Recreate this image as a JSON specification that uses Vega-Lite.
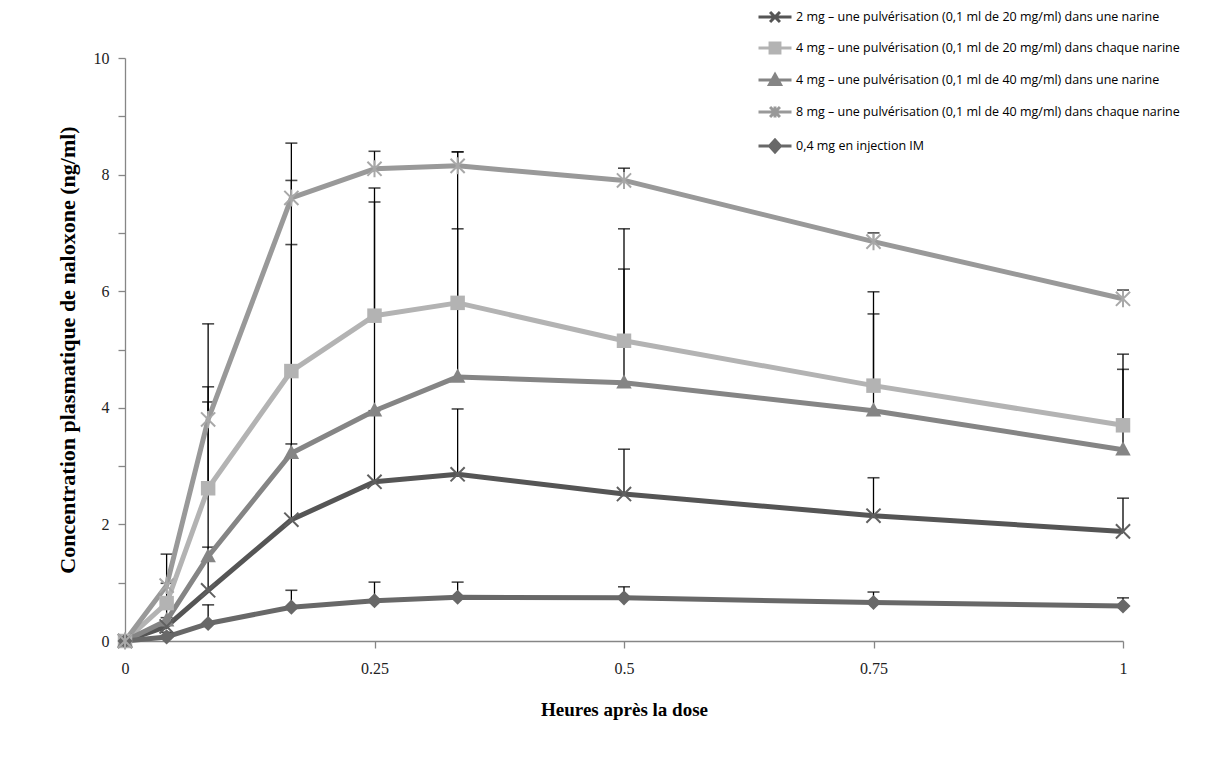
{
  "$schema": "https://vega.github.io/schema/vega-lite/v6.json",
  "width": 998,
  "height": 583,
  "autosize": "none",
  "padding": {"left": 125, "top": 58, "right": 90, "bottom": 126},
  "background": "white",
  "config": {
    "view": {"stroke": null},
    "axis": {"grid": false, "domainColor": "#868686", "tickColor": "#868686", "labelFont": "Liberation Serif", "labelFontSize": 16, "labelColor": "#222222", "titleFont": "Liberation Serif", "titleFontWeight": "bold", "titleColor": "#000000", "titleFontSize": 22, "tickSize": 7, "domainWidth": 1.3, "tickWidth": 1.3}
  },
  "data": {"values": [
    {"s": "2 mg – une pulvérisation (0,1 ml de 20 mg/ml) dans une narine", "x": 0, "y": 0, "up": null},
    {"s": "2 mg – une pulvérisation (0,1 ml de 20 mg/ml) dans une narine", "x": 0.0417, "y": 0.25, "up": 0.4},
    {"s": "2 mg – une pulvérisation (0,1 ml de 20 mg/ml) dans une narine", "x": 0.0833, "y": 0.87, "up": 1.61},
    {"s": "2 mg – une pulvérisation (0,1 ml de 20 mg/ml) dans une narine", "x": 0.1667, "y": 2.08, "up": 3.38},
    {"s": "2 mg – une pulvérisation (0,1 ml de 20 mg/ml) dans une narine", "x": 0.25, "y": 2.73, "up": 3.95},
    {"s": "2 mg – une pulvérisation (0,1 ml de 20 mg/ml) dans une narine", "x": 0.3333, "y": 2.86, "up": 3.98},
    {"s": "2 mg – une pulvérisation (0,1 ml de 20 mg/ml) dans une narine", "x": 0.5, "y": 2.52, "up": 3.29},
    {"s": "2 mg – une pulvérisation (0,1 ml de 20 mg/ml) dans une narine", "x": 0.75, "y": 2.15, "up": 2.8},
    {"s": "2 mg – une pulvérisation (0,1 ml de 20 mg/ml) dans une narine", "x": 1, "y": 1.88, "up": 2.45},
    {"s": "4 mg – une pulvérisation (0,1 ml de 20 mg/ml) dans chaque narine", "x": 0, "y": 0, "up": null},
    {"s": "4 mg – une pulvérisation (0,1 ml de 20 mg/ml) dans chaque narine", "x": 0.0417, "y": 0.65, "up": 0.99},
    {"s": "4 mg – une pulvérisation (0,1 ml de 20 mg/ml) dans chaque narine", "x": 0.0833, "y": 2.62, "up": 4.36},
    {"s": "4 mg – une pulvérisation (0,1 ml de 20 mg/ml) dans chaque narine", "x": 0.1667, "y": 4.63, "up": 7.9},
    {"s": "4 mg – une pulvérisation (0,1 ml de 20 mg/ml) dans chaque narine", "x": 0.25, "y": 5.58, "up": 7.77},
    {"s": "4 mg – une pulvérisation (0,1 ml de 20 mg/ml) dans chaque narine", "x": 0.3333, "y": 5.8, "up": 7.07},
    {"s": "4 mg – une pulvérisation (0,1 ml de 20 mg/ml) dans chaque narine", "x": 0.5, "y": 5.15, "up": 7.07},
    {"s": "4 mg – une pulvérisation (0,1 ml de 20 mg/ml) dans chaque narine", "x": 0.75, "y": 4.38, "up": 5.99},
    {"s": "4 mg – une pulvérisation (0,1 ml de 20 mg/ml) dans chaque narine", "x": 1, "y": 3.7, "up": 4.92},
    {"s": "4 mg – une pulvérisation (0,1 ml de 40 mg/ml) dans une narine", "x": 0, "y": 0, "up": null},
    {"s": "4 mg – une pulvérisation (0,1 ml de 40 mg/ml) dans une narine", "x": 0.0417, "y": 0.35, "up": 0.6},
    {"s": "4 mg – une pulvérisation (0,1 ml de 40 mg/ml) dans une narine", "x": 0.0833, "y": 1.45, "up": 4.1},
    {"s": "4 mg – une pulvérisation (0,1 ml de 40 mg/ml) dans une narine", "x": 0.1667, "y": 3.22, "up": 6.8},
    {"s": "4 mg – une pulvérisation (0,1 ml de 40 mg/ml) dans une narine", "x": 0.25, "y": 3.95, "up": 7.53},
    {"s": "4 mg – une pulvérisation (0,1 ml de 40 mg/ml) dans une narine", "x": 0.3333, "y": 4.53, "up": 8.39},
    {"s": "4 mg – une pulvérisation (0,1 ml de 40 mg/ml) dans une narine", "x": 0.5, "y": 4.43, "up": 6.38},
    {"s": "4 mg – une pulvérisation (0,1 ml de 40 mg/ml) dans une narine", "x": 0.75, "y": 3.95, "up": 5.61},
    {"s": "4 mg – une pulvérisation (0,1 ml de 40 mg/ml) dans une narine", "x": 1, "y": 3.28, "up": 4.66},
    {"s": "8 mg – une pulvérisation (0,1 ml de 40 mg/ml) dans chaque narine", "x": 0, "y": 0, "up": null},
    {"s": "8 mg – une pulvérisation (0,1 ml de 40 mg/ml) dans chaque narine", "x": 0.0417, "y": 0.95, "up": 1.49},
    {"s": "8 mg – une pulvérisation (0,1 ml de 40 mg/ml) dans chaque narine", "x": 0.0833, "y": 3.8, "up": 5.44},
    {"s": "8 mg – une pulvérisation (0,1 ml de 40 mg/ml) dans chaque narine", "x": 0.1667, "y": 7.6, "up": 8.54},
    {"s": "8 mg – une pulvérisation (0,1 ml de 40 mg/ml) dans chaque narine", "x": 0.25, "y": 8.1, "up": 8.4},
    {"s": "8 mg – une pulvérisation (0,1 ml de 40 mg/ml) dans chaque narine", "x": 0.3333, "y": 8.15, "up": 8.39},
    {"s": "8 mg – une pulvérisation (0,1 ml de 40 mg/ml) dans chaque narine", "x": 0.5, "y": 7.9, "up": 8.11},
    {"s": "8 mg – une pulvérisation (0,1 ml de 40 mg/ml) dans chaque narine", "x": 0.75, "y": 6.85, "up": 7.0},
    {"s": "8 mg – une pulvérisation (0,1 ml de 40 mg/ml) dans chaque narine", "x": 1, "y": 5.87, "up": 6.02},
    {"s": "0,4 mg en injection IM", "x": 0, "y": 0, "up": null},
    {"s": "0,4 mg en injection IM", "x": 0.0417, "y": 0.07, "up": 0.15},
    {"s": "0,4 mg en injection IM", "x": 0.0833, "y": 0.3, "up": 0.62},
    {"s": "0,4 mg en injection IM", "x": 0.1667, "y": 0.58, "up": 0.87},
    {"s": "0,4 mg en injection IM", "x": 0.25, "y": 0.69, "up": 1.01},
    {"s": "0,4 mg en injection IM", "x": 0.3333, "y": 0.75, "up": 1.01},
    {"s": "0,4 mg en injection IM", "x": 0.5, "y": 0.74, "up": 0.93},
    {"s": "0,4 mg en injection IM", "x": 0.75, "y": 0.66, "up": 0.84},
    {"s": "0,4 mg en injection IM", "x": 1, "y": 0.6, "up": 0.74}
  ]},
  "layer": [
    {
      "transform": [{"filter": "datum.up != null"}],
      "mark": {"type": "rule", "color": "#000000", "strokeWidth": 1.3},
      "encoding": {
        "x": {"field": "x", "type": "quantitative"},
        "y": {"field": "y", "type": "quantitative"},
        "y2": {"field": "up"}
      }
    },
    {
      "transform": [{"filter": "datum.up != null"}],
      "mark": {"type": "tick", "orient": "horizontal", "color": "#000000", "size": 12, "thickness": 1.6},
      "encoding": {
        "x": {"field": "x", "type": "quantitative"},
        "y": {"field": "up", "type": "quantitative"}
      }
    },
    {
      "mark": {"type": "line", "strokeWidth": 5, "strokeJoin": "round"},
      "encoding": {
        "x": {"field": "x", "type": "quantitative", "scale": {"domain": [0, 1], "nice": false}, "axis": {"values": [0, 0.25, 0.5, 0.75, 1], "format": "~g", "title": "Heures après la dose", "titleFontSize": 19, "labelPadding": 12, "titlePadding": 24, "labelFlush": false}},
        "y": {"field": "y", "type": "quantitative", "scale": {"domain": [0, 10], "nice": false}, "axis": {"values": [0, 1, 2, 3, 4, 5, 6, 7, 8, 9, 10], "format": "~g", "labelExpr": "datum.value % 2 == 0 ? datum.label : ''", "title": "Concentration plasmatique de naloxone (ng/ml)", "titlePadding": 14, "labelPadding": 9}},
        "color": {
          "field": "s", "type": "nominal", "sort": null,
          "scale": {
            "domain": ["2 mg – une pulvérisation (0,1 ml de 20 mg/ml) dans une narine", "4 mg – une pulvérisation (0,1 ml de 20 mg/ml) dans chaque narine", "4 mg – une pulvérisation (0,1 ml de 40 mg/ml) dans une narine", "8 mg – une pulvérisation (0,1 ml de 40 mg/ml) dans chaque narine", "0,4 mg en injection IM"],
            "range": ["#555555", "#b3b3b3", "#858585", "#999999", "#686868"]
          },
          "legend": {
            "orient": "none", "legendX": 643, "legendY": -48, "title": null, "padding": 0,
            "labelFont": "Open Sans", "labelFontSize": 12.5, "labelColor": "#000000", "labelOffset": 14,
            "symbolSize": 121, "symbolStrokeWidth": 3, "rowPadding": 9, "labelLimit": 600,
            "encode": {"symbols": {"update": {
              "shape": {"signal": "['M-3,0H3M-0.9,-0.9L0.9,0.9M-0.9,0.9L0.9,-0.9', 'M-3,0H3M-0.9,-0.9H0.9V0.9H-0.9Z', 'M-3,0H3M0,-1L1,0.8H-1Z', 'M-3,0H3M-0.9,-0.9L0.9,0.9M-0.9,0.9L0.9,-0.9M0,-1V1', 'M-3,0H3M0,-1.1L1,0L0,1.1L-1,0Z'][datum.index]"},
              "fill": {"signal": "scale('color', datum.value)"},
              "stroke": {"signal": "scale('color', datum.value)"},
              "strokeWidth": {"value": 3},
              "opacity": {"value": 1}
            }}}
          }
        }
      }
    },
    {
      "transform": [{"filter": "datum.s == '4 mg – une pulvérisation (0,1 ml de 20 mg/ml) dans chaque narine'"}],
      "mark": {"type": "point", "shape": "square", "filled": true, "opacity": 1, "color": "#b3b3b3", "size": 210},
      "encoding": {
        "x": {"field": "x", "type": "quantitative"},
        "y": {"field": "y", "type": "quantitative"}
      }
    },
    {
      "transform": [{"filter": "datum.s == '4 mg – une pulvérisation (0,1 ml de 40 mg/ml) dans une narine'"}],
      "mark": {"type": "point", "shape": "M0,-1.1L1,0.75H-1Z", "filled": true, "opacity": 1, "color": "#858585", "size": 240},
      "encoding": {
        "x": {"field": "x", "type": "quantitative"},
        "y": {"field": "y", "type": "quantitative"}
      }
    },
    {
      "transform": [{"filter": "datum.s == '0,4 mg en injection IM'"}],
      "mark": {"type": "point", "shape": "diamond", "filled": true, "opacity": 1, "color": "#686868", "size": 230},
      "encoding": {
        "x": {"field": "x", "type": "quantitative"},
        "y": {"field": "y", "type": "quantitative"}
      }
    },
    {
      "transform": [{"filter": "datum.s == '2 mg – une pulvérisation (0,1 ml de 20 mg/ml) dans une narine'"}],
      "mark": {"type": "point", "shape": "M-1,-1L1,1M-1,1L1,-1", "filled": false, "strokeWidth": 2, "opacity": 1, "color": "#606060", "size": 200},
      "encoding": {
        "x": {"field": "x", "type": "quantitative"},
        "y": {"field": "y", "type": "quantitative"}
      }
    },
    {
      "transform": [{"filter": "datum.s == '8 mg – une pulvérisation (0,1 ml de 40 mg/ml) dans chaque narine'"}],
      "mark": {"type": "point", "shape": "M-1,-1L1,1M-1,1L1,-1M0,-1.2V1.2", "filled": false, "strokeWidth": 2, "opacity": 1, "color": "#a8a8a8", "size": 200},
      "encoding": {
        "x": {"field": "x", "type": "quantitative"},
        "y": {"field": "y", "type": "quantitative"}
      }
    }
  ]
}
